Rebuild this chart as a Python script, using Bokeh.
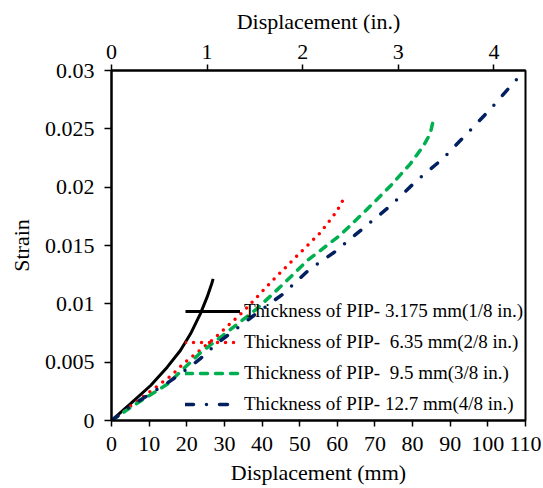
from bokeh.plotting import figure
from bokeh.models import Range1d, LinearAxis, FixedTicker, CustomJSTickFormatter
from bokeh.embed import file_html
from bokeh.resources import INLINE

# ---- data ----
x_black = [0, 5.0, 10.4, 14.8, 18.3, 21.0, 23.6, 25.4, 26.6, 27.0]
y_black = [0, 0.00143, 0.0030, 0.00457, 0.0060, 0.00743, 0.00914, 0.01057, 0.0117, 0.01214]

x_red = [0, 9.5, 15.7, 19.2, 27.2, 35.2, 43.1, 50.2, 55.5, 59.8, 61.5, 62.0]
y_red = [0, 0.0023, 0.0038, 0.0049, 0.0070, 0.0094, 0.0121, 0.0144, 0.0161, 0.0179, 0.0189, 0.0194]

x_green = [0, 5.9, 14.8, 23.6, 30.0, 38.7, 45.0, 52.0, 60.8, 67.9, 74.1, 79.4, 83.0, 84.7, 85.4]
y_green = [0, 0.0013, 0.0031, 0.0058, 0.0074, 0.0096, 0.0115, 0.0137, 0.0159, 0.0181, 0.0201, 0.0220, 0.0236, 0.0246, 0.0256]

x_blue = [0, 5.9, 14.8, 20.0, 23.6, 28.0, 37.8, 45.8, 52.4, 59.1, 66.6, 74.1, 81.2, 87.9, 94.5, 100.7, 107.8]
y_blue = [0, 0.0014, 0.0032, 0.0044, 0.0053, 0.0066, 0.0090, 0.0109, 0.0129, 0.0144, 0.0164, 0.0184, 0.0206, 0.0224, 0.0246, 0.0267, 0.0293]

labels = [
    "Thickness of PIP- 3.175 mm(1/8 in.)",
    "Thickness of PIP-\u00a0 6.35 mm(2/8 in.)",
    "Thickness of PIP-\u00a0 9.5 mm(3/8 in.)",
    "Thickness of PIP- 12.7 mm(4/8 in.)",
]

mm_ticks = [0, 10, 20, 30, 40, 50, 60, 70, 80, 90, 100, 110]
in_ticks = [0, 1, 2, 3, 4]
strain_ticks = [0, 0.005, 0.01, 0.015, 0.02, 0.025, 0.03]

FONT = "Liberation Serif"

p = figure(width=543, height=488, output_backend="svg", toolbar_location=None,
           x_range=Range1d(0, 110), y_range=Range1d(0, 0.03),
           x_axis_location=None, y_axis_location=None,
           min_border_left=111, min_border_right=18, min_border_top=70, min_border_bottom=68)
p.extra_x_ranges = {"inch": Range1d(0, 110 / 25.4)}

p.xgrid.visible = False
p.ygrid.visible = False
p.background_fill_color = "white"
p.border_fill_color = "white"
p.outline_line_color = "black"
p.outline_line_width = 2
p.outline_line_alpha = 1

p.line(x_black, y_black, line_color="black", line_width=3, legend_label=labels[0])
p.line(x_red, y_red, line_color="#FF0000", line_width=3.5, line_dash="0 8", line_cap="round",
       legend_label=labels[1])
p.line(x_green, y_green, line_color="#00B050", line_width=3.5, line_dash="7 8", line_cap="round",
       legend_label=labels[2])
p.line(x_blue, y_blue, line_color="#002060", line_width=3.5, line_dash="8 13 0 13", line_cap="round",
       legend_label=labels[3])

top = LinearAxis(x_range_name="inch", ticker=FixedTicker(ticks=in_ticks), axis_label="Displacement (in.)")
xa = LinearAxis(ticker=FixedTicker(ticks=mm_ticks), axis_label="Displacement (mm)")
ya = LinearAxis(ticker=FixedTicker(ticks=strain_ticks), axis_label="Strain",
                formatter=CustomJSTickFormatter(code="return String(Math.round(tick*1000)/1000);"))
p.add_layout(top, "above")
p.add_layout(xa, "below")
p.add_layout(ya, "left")

for ax in [xa, ya, top]:
    ax.axis_line_color = "black"
    ax.axis_line_width = 2
    ax.major_tick_line_color = "black"
    ax.major_tick_line_width = 1.5
    ax.major_tick_in = 0
    ax.major_tick_out = 6
    ax.minor_tick_line_color = None
    ax.major_label_text_font = FONT
    ax.major_label_text_font_size = "22px"
    ax.major_label_text_color = "black"
    ax.axis_label_text_font = FONT
    ax.axis_label_text_font_size = "22px"
    ax.axis_label_text_font_style = "normal"
    ax.axis_label_text_color = "black"
ya.major_tick_out = 7
ya.major_label_standoff = 10
ya.axis_label_standoff = 8
xa.major_label_standoff = 10
xa.axis_label_standoff = 6
top.major_label_standoff = 6
top.axis_label_standoff = 8

lg = p.legend[0]
lg.location = (74, 5)
lg.background_fill_alpha = 0
lg.border_line_alpha = 0
lg.label_text_font = FONT
lg.label_text_font_size = "19px"
lg.label_text_color = "black"
lg.glyph_width = 55
lg.glyph_height = 20
lg.label_height = 20
lg.spacing = 9
lg.padding = 0
lg.margin = 0
lg.label_standoff = 4

open("out.html", "w").write(file_html(p, INLINE))
